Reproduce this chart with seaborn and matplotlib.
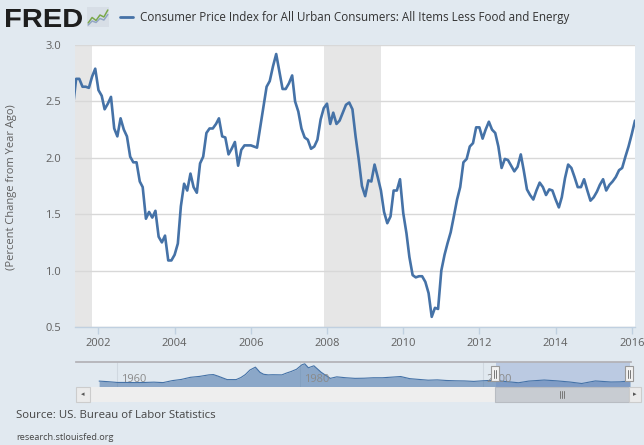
import numpy as np
import pandas as pd
import matplotlib
matplotlib.use("Agg")
import matplotlib.pyplot as plt
import matplotlib.dates as mdates
from matplotlib.patches import Rectangle, PathPatch
from matplotlib.textpath import TextPath
from matplotlib.font_manager import FontProperties
from matplotlib.transforms import Affine2D
import seaborn as sns

# ----------------------------------------------------------
# DATA  (core CPI, percent change from year ago, monthly)
# ----------------------------------------------------------

start_month = "2001-05-01"

cpi_2001 = [2.45, 2.70, 2.70, 2.63, 2.63, 2.62, 2.72, 2.79]
cpi_2002 = [2.60, 2.55, 2.43, 2.48, 2.54, 2.26, 2.19, 2.35, 2.25, 2.19, 2.01, 1.96]
cpi_2003 = [1.96, 1.79, 1.74, 1.46, 1.52, 1.47, 1.53, 1.30, 1.25, 1.31, 1.09, 1.09]
cpi_2004 = [1.14, 1.24, 1.57, 1.77, 1.71, 1.86, 1.74, 1.69, 1.95, 2.01, 2.22, 2.26]
cpi_2005 = [2.26, 2.30, 2.35, 2.19, 2.18, 2.03, 2.08, 2.14, 1.93, 2.07, 2.11, 2.11]
cpi_2006 = [2.11, 2.10, 2.09, 2.27, 2.45, 2.63, 2.68, 2.81, 2.92, 2.77, 2.61, 2.61]
cpi_2007 = [2.66, 2.73, 2.50, 2.41, 2.26, 2.18, 2.16, 2.08, 2.10, 2.16, 2.34, 2.44]
cpi_2008 = [2.48, 2.30, 2.40, 2.30, 2.33, 2.40, 2.47, 2.49, 2.43, 2.19, 1.98, 1.75]
cpi_2009 = [1.66, 1.80, 1.79, 1.94, 1.83, 1.71, 1.52, 1.42, 1.48, 1.71, 1.71, 1.81]
cpi_2010 = [1.51, 1.33, 1.12, 0.96, 0.94, 0.95, 0.95, 0.90, 0.80, 0.59, 0.67, 0.66]
cpi_2011 = [1.00, 1.14, 1.24, 1.34, 1.48, 1.63, 1.74, 1.96, 1.99, 2.10, 2.13, 2.27]
cpi_2012 = [2.27, 2.17, 2.25, 2.32, 2.25, 2.22, 2.10, 1.91, 1.99, 1.98, 1.93, 1.88]
cpi_2013 = [1.92, 2.03, 1.89, 1.72, 1.67, 1.63, 1.71, 1.78, 1.74, 1.67, 1.72, 1.71]
cpi_2014 = [1.63, 1.56, 1.65, 1.82, 1.94, 1.91, 1.83, 1.74, 1.74, 1.81, 1.71, 1.62]
cpi_2015 = [1.65, 1.70, 1.76, 1.81, 1.71, 1.76, 1.79, 1.83, 1.89, 1.91, 2.01, 2.10]
cpi_2016 = [2.21, 2.33]

recession_starts = ["2001-03-01", "2007-12-01"]
recession_ends = ["2001-11-01", "2009-06-01"]

tick_years = [2002, 2004, 2006, 2008, 2010, 2012, 2014, 2016]
y_ticks = [0.5, 1.0, 1.5, 2.0, 2.5, 3.0]

# navigator (whole history, coarse)
nav_years = [1958.0, 1959.0, 1960.0, 1961.0, 1962.0, 1963.0, 1964.0, 1965.0,
             1966.0, 1967.0, 1968.0, 1969.0, 1970.0, 1970.5, 1971.0, 1972.0,
             1973.0, 1973.5, 1974.0, 1974.5, 1975.1, 1975.6, 1976.0, 1976.5,
             1977.0, 1978.0, 1978.5, 1979.0, 1979.6, 1980.2, 1980.5, 1980.9,
             1981.5, 1982.3, 1983.3, 1984.0, 1985.0, 1986.0, 1987.0, 1988.0,
             1989.0, 1990.0, 1991.0, 1992.0, 1993.0, 1994.0, 1995.0, 1996.0,
             1997.0, 1998.0, 1999.0, 2000.0, 2001.0, 2002.0, 2003.9, 2005.0,
             2006.7, 2008.0, 2009.5, 2010.8, 2012.3, 2014.0, 2015.0, 2016.1]
nav_values = [2.2, 1.8, 1.3, 1.3, 1.2, 1.3, 1.5, 1.2,
              2.5, 3.3, 4.7, 5.3, 6.3, 6.5, 5.5, 3.2,
              3.2, 4.5, 6.5, 9.5, 11.4, 8.0, 6.7, 6.3,
              6.4, 6.3, 7.5, 8.5, 10.0, 13.0, 13.6, 11.0,
              12.3, 8.0, 4.0, 5.0, 4.4, 4.0, 4.1, 4.4,
              4.4, 4.8, 5.2, 3.8, 3.3, 2.8, 3.0, 2.6,
              2.4, 2.3, 2.0, 2.4, 2.7, 2.2, 1.1, 2.2,
              2.9, 2.4, 1.6, 0.6, 2.3, 1.6, 1.7, 2.3]
nav_label_years = [1960, 1980, 2000]

# ----------------------------------------------------------
# FRAME
# ----------------------------------------------------------

values = (cpi_2001 + cpi_2002 + cpi_2003 + cpi_2004 + cpi_2005 + cpi_2006 +
          cpi_2007 + cpi_2008 + cpi_2009 + cpi_2010 + cpi_2011 + cpi_2012 +
          cpi_2013 + cpi_2014 + cpi_2015 + cpi_2016)

df = pd.DataFrame({
    "date": pd.date_range(start_month, periods=len(values), freq="MS"),
    "value": values
})

# ----------------------------------------------------------
# FIGURE
# ----------------------------------------------------------

sns.set_theme(style="white")
plt.rcParams["font.family"] = ["Open Sans", "DejaVu Sans"]

W, H = 644, 445
BG = "#e1e9f0"
BLUE = "#4572a7"
TXT = "#606060"

fig = plt.figure(figsize=(W / 100, H / 100), dpi=100)
fig.patch.set_facecolor(BG)


def box(x0, y0, x1, y1):
    # pixel box -> figure fraction [left, bottom, width, height]
    return [x0 / W, 1 - y1 / H, (x1 - x0) / W, (y1 - y0) / H]


def rect_px(x0, y0, x1, y1, **kw):
    fig.patches.append(Rectangle((x0 / W, 1 - y1 / H), (x1 - x0) / W,
                                 (y1 - y0) / H, transform=fig.transFigure, **kw))


def line_px(xs, ys, **kw):
    fig.lines.append(plt.Line2D([x / W for x in xs], [1 - y / H for y in ys],
                                transform=fig.transFigure, **kw))


# ----------------------------------------------------------
# MAIN CHART
# ----------------------------------------------------------

ax = fig.add_axes(box(75, 45, 635, 327))
ax.set_facecolor("white")

for s, e in zip(recession_starts, recession_ends):
    ax.axvspan(pd.Timestamp(s), pd.Timestamp(e), color="#e6e6e6",
               linewidth=0, zorder=0)

sns.lineplot(data=df, x="date", y="value", ax=ax, color=BLUE,
             linewidth=1.9, zorder=3)

ax.set_xlim(pd.Timestamp("2001-05-21"), pd.Timestamp("2016-02-01"))
ax.set_ylim(0.5, 3.0)

ax.set_yticks(y_ticks)
ax.set_yticklabels([f"{v:.1f}" for v in y_ticks])
ax.set_xticks([pd.Timestamp(f"{y}-01-01") for y in tick_years])
ax.xaxis.set_major_formatter(mdates.DateFormatter("%Y"))

ax.yaxis.grid(True, color="#d8d8d8", linewidth=1)
ax.xaxis.grid(False)
ax.set_axisbelow(True)

for side in ["top", "left", "right"]:
    ax.spines[side].set_visible(False)
ax.spines["bottom"].set_color("#c0d0e0")
ax.spines["bottom"].set_linewidth(1)

ax.tick_params(axis="x", bottom=True, direction="out", length=5, width=1,
               color="#c0d0e0", labelcolor=TXT, labelsize=8, pad=3)
ax.tick_params(axis="y", length=0, labelcolor=TXT, labelsize=8, pad=10)

ax.set_xlabel("")
ax.set_ylabel("")

fig.text(12 / W, 1 - 187 / H, "(Percent Change from Year Ago)", rotation=90,
         ha="center", va="center", fontsize=8, color=TXT)

# ----------------------------------------------------------
# HEADER
# ----------------------------------------------------------

# FRED wordmark, fitted to its box (x 6-82, y 9-27 px)
tp = TextPath((0, 0), "FRED", size=1,
              prop=FontProperties(family="Liberation Sans", weight="bold"))
bb = tp.get_extents()
logo_tf = (Affine2D().translate(-bb.x0, -bb.y0)
           .scale(76 / bb.width / W, 18 / bb.height / H)
           .translate(6 / W, 1 - 27 / H) + fig.transFigure)
fig.patches.append(PathPatch(tp, transform=logo_tf, facecolor="#1e1e1e",
                             edgecolor="none"))

icon = fig.add_axes(box(87, 7, 109, 27))
icon.set_facecolor("#d7dee6")
icon.plot([0, 1, 2, 3, 4, 5], [0.8, 1.9, 1.3, 2.4, 2.0, 3.4],
          color="#7aa84a", lw=1.1)
icon.plot([0, 1, 2, 3, 4, 5], [0.4, 1.2, 0.9, 1.7, 1.4, 2.5],
          color="#93a7c4", lw=1.1)
icon.set_xlim(-0.3, 5.3)
icon.set_ylim(0, 4)
icon.set_xticks([])
icon.set_yticks([])
for sp in icon.spines.values():
    sp.set_visible(False)

line_px([120, 133], [17, 17], color=BLUE, lw=2)
fig.text(140 / W, 1 - 17 / H,
         "Consumer Price Index for All Urban Consumers: All Items Less Food and Energy",
         fontsize=8.4, color="#333333", ha="left", va="center")

# ----------------------------------------------------------
# NAVIGATOR
# ----------------------------------------------------------

nav = fig.add_axes(box(76, 362, 631, 387))
nav.set_facecolor("none")
nav.fill_between(nav_years, nav_values, -1.7, color=BLUE, alpha=0.55,
                 linewidth=0)
nav.plot(nav_years, nav_values, color=BLUE, lw=0.8)
nav.set_xlim(1955.47, 2016.2)
nav.set_ylim(-1.7, 14.8)
nav.set_xticks([])
nav.set_yticks([])
for yr in nav_label_years:
    nav.axvline(yr, color="#d0d8e0", lw=0.8, zorder=0)
    nav.text(yr + 0.4, 0.3, str(yr), transform=nav.get_xaxis_transform(),
             fontsize=8, color="#8a8a8a", ha="left", va="center")
nav.axvspan(2001.4, 2016.1, color="#6685c2", alpha=0.3, linewidth=0)
for sp in ["left", "right", "bottom"]:
    nav.spines[sp].set_visible(False)
nav.spines["top"].set_color("#b2b1b6")

# handles
for hx in [495, 629]:
    rect_px(hx - 4, 366, hx + 4, 381, facecolor="#f2f2f2",
            edgecolor="#999999", linewidth=0.8)
    for dx in [-1, 1]:
        line_px([hx + dx, hx + dx], [369.5, 377.5], color="#777777", lw=0.7)

# scrollbar
rect_px(90, 387, 629, 402, facecolor="#eeeeee", edgecolor="none")
rect_px(495, 387, 629, 402, facecolor="#c8ccd2", edgecolor="#b8bcc2",
        linewidth=0.8)
for dx in [-2, 0, 2]:
    line_px([562 + dx, 562 + dx], [391, 398], color="#777777", lw=0.7)
rect_px(76, 387, 90, 402, facecolor="#ebebeb", edgecolor="#cccccc",
        linewidth=0.8)
fig.text(83 / W, 1 - 394.5 / H, "\u25c2", fontsize=5, color="#555555",
         ha="center", va="center", family="DejaVu Sans")
rect_px(629, 387, 641, 402, facecolor="#ebebeb", edgecolor="#cccccc",
        linewidth=0.8)
fig.text(635 / W, 1 - 394.5 / H, "\u25b8", fontsize=5, color="#555555",
         ha="center", va="center", family="DejaVu Sans")

# ----------------------------------------------------------
# FOOTER
# ----------------------------------------------------------

fig.text(16 / W, 1 - 415 / H, "Source: US. Bureau of Labor Statistics",
         fontsize=8.2, color="#444444", ha="left", va="center")
fig.text(16 / W, 1 - 437 / H, "research.stlouisfed.org",
         fontsize=6.6, color="#444444", ha="left", va="center")

fig.savefig("out.png", dpi=100, facecolor=BG)
